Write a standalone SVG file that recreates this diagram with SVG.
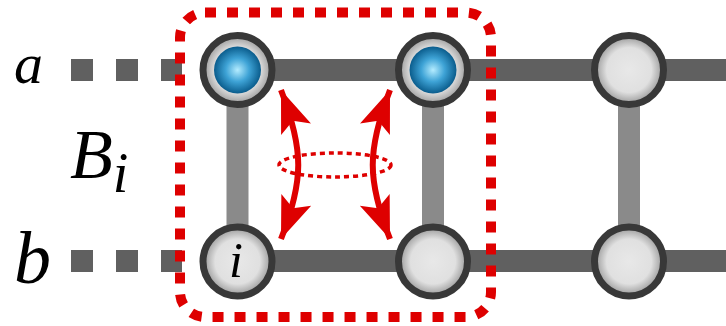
<svg xmlns="http://www.w3.org/2000/svg" width="726" height="326" viewBox="0 0 726 326">
  <style>
    .rail { stroke: #606060; stroke-width: 22; fill: none; }
    .dash { stroke: #606060; stroke-width: 22; fill: none; stroke-dasharray: 22 23; }
    .rung { stroke: #8a8a8a; stroke-width: 22; fill: none; }
    .site { fill: url(#gGray); stroke: #383838; stroke-width: 7; }
    .core { fill: url(#gBlue); }
    .lbl { font-family: "Liberation Serif", "Times New Roman", serif; font-style: italic; fill: #000; }
    .box { fill: none; stroke: #de0000; stroke-width: 10; stroke-dasharray: 11 11; }
    .ring { fill: none; stroke: #de0000; stroke-width: 3.5; stroke-dasharray: 5 4; }
    .swap { fill: none; stroke: #de0000; stroke-width: 6; marker-start: url(#head); marker-end: url(#head); }
  </style>
  <defs>
    <radialGradient id="gGray" cx="0.5" cy="0.5" r="0.5">
      <stop offset="0" stop-color="#e8e8e8"/>
      <stop offset="0.65" stop-color="#e0e0e0"/>
      <stop offset="1" stop-color="#959595"/>
    </radialGradient>
    <radialGradient id="gBlue" cx="0.5" cy="0.5" r="0.5">
      <stop offset="0" stop-color="#b4ecff"/>
      <stop offset="0.5" stop-color="#3ea3d6"/>
      <stop offset="1" stop-color="#0a5c8c"/>
    </radialGradient>
    <marker id="head" markerUnits="userSpaceOnUse" markerWidth="50" markerHeight="40" viewBox="-45 -20 50 40" refX="0" refY="0" orient="auto-start-reverse">
      <path d="M0,0 L-42,-16 L-33,0 L-42,16 Z" fill="#de0000"/>
    </marker>
  </defs>

  <!-- ladder rails, rungs and open ends -->
  <g id="connectors">
    <line class="dash" x1="71" y1="70" x2="182" y2="70"/>
    <line class="dash" x1="71" y1="261" x2="182" y2="261"/>
    <line class="rail" x1="237.5" y1="70" x2="726" y2="70"/>
    <line class="rail" x1="237.5" y1="261" x2="726" y2="261"/>
    <line class="rung" x1="237.5" y1="70" x2="237.5" y2="261"/>
    <line class="rung" x1="433" y1="70" x2="433" y2="261"/>
    <line class="rung" x1="629" y1="70" x2="629" y2="261"/>
  </g>

  <!-- sites -->
  <g id="a1">
    <circle class="site" cx="237.5" cy="70" r="34.5"/>
    <circle class="core" cx="237.5" cy="70" r="23.5"/>
  </g>
  <g id="a2">
    <circle class="site" cx="433" cy="70" r="34.5"/>
    <circle class="core" cx="433" cy="70" r="23.5"/>
  </g>
  <g id="a3">
    <circle class="site" cx="629" cy="70" r="34.5"/>
  </g>
  <g id="b1">
    <circle class="site" cx="237.5" cy="261.5" r="34.5"/>
    <text class="lbl" x="236" y="277" font-size="50" text-anchor="middle">i</text>
  </g>
  <g id="b2">
    <circle class="site" cx="433" cy="261.5" r="34.5"/>
  </g>
  <g id="b3">
    <circle class="site" cx="629" cy="261.5" r="34.5"/>
  </g>

  <!-- rail labels -->
  <text class="lbl" x="14" y="83" font-size="58">a</text>
  <text class="lbl" x="14" y="283" font-size="74">b</text>
  <text class="lbl" x="70" y="178" font-size="70">B<tspan font-size="56" dy="14">i</tspan></text>

  <!-- block B_i: bounding box, exchange arrows and pairing ring -->
  <g id="block">
    <rect class="box" x="180" y="12.5" width="311" height="304.5" rx="25" ry="25"/>
    <ellipse class="ring" cx="335" cy="165" rx="56" ry="12"/>
    <path class="swap" d="M281,90 C304,150 304,180 281,239"/>
    <path class="swap" d="M390,90 C367,150 367,180 390,239"/>
  </g>
</svg>
